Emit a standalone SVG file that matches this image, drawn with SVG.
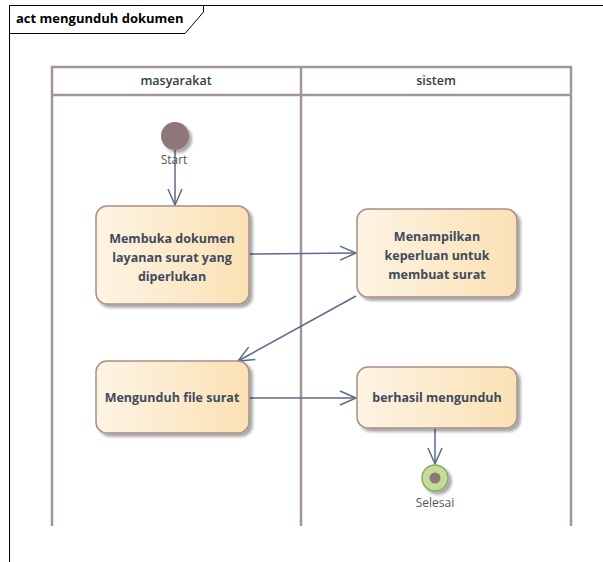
<svg xmlns="http://www.w3.org/2000/svg" width="603" height="562" viewBox="0 0 603 562">
  <defs>
    <linearGradient id="actFill" x1="0" y1="0" x2="1" y2="0">
      <stop offset="0" stop-color="#fdf4e4"/>
      <stop offset="1" stop-color="#fbe1b4"/>
    </linearGradient>
    <filter id="shadow" x="-10%" y="-10%" width="130%" height="130%">
      <feGaussianBlur in="SourceAlpha" stdDeviation="1.5"/>
      <feOffset dx="3" dy="3" result="b"/>
      <feComponentTransfer><feFuncA type="linear" slope="0.35"/></feComponentTransfer>
      <feMerge><feMergeNode/><feMergeNode in="SourceGraphic"/></feMerge>
    </filter>
    <marker id="open" viewBox="0 0 20 20" refX="18" refY="10" markerWidth="20" markerHeight="20" markerUnits="userSpaceOnUse" orient="auto">
      <path d="M2,3 L18,10 L2,17" fill="none" stroke="#5d6b8a" stroke-width="1.5"/>
    </marker>
  </defs>
  <style>
    .frame { fill: none; stroke: #000; stroke-width: 1; }
    .lane { fill: none; stroke: #a39696; stroke-width: 2.5; }
    .act { fill: url(#actFill); stroke: #a88f88; stroke-width: 1.5; filter: url(#shadow); }
    .lbl { font-family: "Open Sans", "Noto Sans", sans-serif; font-weight: bold; font-size: 12.5px; fill: #404a5c; text-anchor: middle; }
    .hdr { font-family: "Open Sans", "Noto Sans", sans-serif; font-weight: 600; font-size: 12.5px; fill: #3a3a44; text-anchor: middle; }
    .small { font-family: "Open Sans", "Noto Sans", sans-serif; font-size: 12px; fill: #555; text-anchor: middle; }
    .flow { fill: none; stroke: #5d6b8a; stroke-width: 1.5; marker-end: url(#open); }
  </style>
  <rect width="603" height="562" fill="#fff"/>

  <!-- diagram frame and title tab -->
  <g id="frame">
    <path class="frame" d="M9.5,562 L9.5,5.5 L603,5.5"/>
    <path class="frame" d="M9.5,5.5 L203.5,5.5 L203.5,12 L185,33.5 L9.5,33.5"/>
    <text x="16" y="23" font-family="'Open Sans', 'Noto Sans', sans-serif" font-weight="bold" font-size="13" fill="#000">act mengunduh dokumen</text>
  </g>

  <!-- swimlanes -->
  <g id="lanes">
    <path class="lane" d="M52,526 L52,67 L571,67 L571,526"/>
    <path class="lane" d="M52,95 L571,95"/>
    <path class="lane" d="M301,67 L301,526"/>
    <text class="hdr" x="176" y="85">masyarakat</text>
    <text class="hdr" x="436" y="85">sistem</text>
  </g>

  <!-- connectors -->
  <g id="connectors">
    <path class="flow" d="M175,150 L175,205"/>
    <path class="flow" d="M250,254 L356,253"/>
    <path class="flow" d="M356,296 L238,361"/>
    <path class="flow" d="M250,398 L356,398"/>
    <path class="flow" d="M435,429 L435,464"/>
  </g>

  <g id="start">
    <circle cx="175" cy="136" r="14" fill="#8f7777" filter="url(#shadow)"/>
    <text class="small" x="174" y="164">Start</text>
  </g>

  <g id="membuka">
    <rect class="act" x="96" y="206" width="153" height="98" rx="11"/>
    <text class="lbl" x="172" y="243">Membuka dokumen</text>
    <text class="lbl" x="172" y="262">layanan surat yang</text>
    <text class="lbl" x="172" y="281">diperlukan</text>
  </g>

  <g id="menampilkan">
    <rect class="act" x="357" y="209" width="160" height="88" rx="11"/>
    <text class="lbl" x="437" y="241">Menampilkan</text>
    <text class="lbl" x="437" y="260">keperluan untuk</text>
    <text class="lbl" x="437" y="279">membuat surat</text>
  </g>

  <g id="mengunduh">
    <rect class="act" x="96" y="361" width="153" height="72" rx="11"/>
    <text class="lbl" x="172" y="402">Mengunduh file surat</text>
  </g>

  <g id="berhasil">
    <rect class="act" x="357" y="367" width="160" height="61" rx="11"/>
    <text class="lbl" x="437" y="402">berhasil mengunduh</text>
  </g>

  <g id="selesai">
    <circle cx="435" cy="478" r="13" fill="#c5dc96" stroke="#8aa868" stroke-width="1.5" filter="url(#shadow)"/>
    <circle cx="435" cy="478" r="5.5" fill="#8f7777"/>
    <text class="small" x="435" y="507">Selesai</text>
  </g>
</svg>
